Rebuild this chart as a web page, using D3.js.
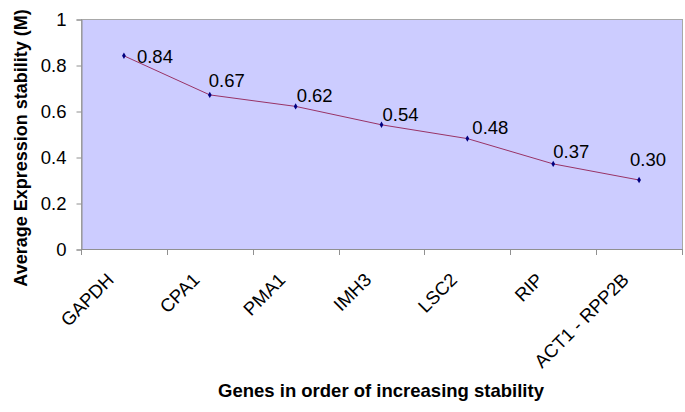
<!DOCTYPE html>
<html>
<head>
<meta charset="utf-8">
<script src="https://cdn.jsdelivr.net/npm/d3@7"></script>
<style>
  body { margin: 0; background: #fff; }
  text { font-family: "Liberation Sans", Arial, sans-serif; fill: #000; }
</style>
</head>
<body>
<svg id="chart" width="685" height="412"></svg>
<script>
const genes = ["GAPDH", "CPA1", "PMA1", "IMH3", "LSC2", "RIP", "ACT1 - RPP2B"];
const stability = [0.84, 0.67, 0.62, 0.54, 0.48, 0.37, 0.30];
const valueLabels = ["0.84", "0.67", "0.62", "0.54", "0.48", "0.37", "0.30"];
const yTicks = [0, 0.2, 0.4, 0.6, 0.8, 1];
const yTickLabels = ["0", "0.2", "0.4", "0.6", "0.8", "1"];

const svg = d3.select("#chart");
const m = { left: 81, top: 19, right: 682, bottom: 249 };
const FS = 18.5;

const x = d3.scaleBand().domain(genes).range([m.left, m.right]).paddingInner(0).paddingOuter(0);
const y = d3.scaleLinear().domain([0, 1]).range([m.bottom, m.top]);

// plot area
svg.append("rect")
  .attr("x", m.left + 0.5).attr("y", m.top + 0.5)
  .attr("width", m.right - m.left).attr("height", m.bottom - m.top)
  .attr("fill", "#ccccff").attr("stroke", "#a8a8a8").attr("stroke-width", 1);

// y axis
const yAxis = svg.append("g").attr("transform", `translate(${m.left + 0.5},0.5)`)
  .call(d3.axisLeft(y).tickValues(yTicks).tickFormat((d, i) => yTickLabels[i]).tickSize(5).tickPadding(10));
yAxis.select(".domain").attr("stroke", "#909090");
yAxis.selectAll(".tick line").attr("stroke", "#909090");
yAxis.selectAll(".tick text").attr("font-size", FS).attr("font-family", "Liberation Sans, Arial, sans-serif").attr("fill", "#000");

// x axis ticks at band boundaries
const xAxis = svg.append("g").attr("transform", `translate(0,${m.bottom})`);
xAxis.append("line").attr("x1", m.left).attr("x2", m.right + 1).attr("y1", 0.5).attr("y2", 0.5).attr("stroke", "#909090");
const bounds = genes.map(g => x(g)).concat([x(genes[genes.length - 1]) + x.bandwidth()]);
xAxis.selectAll("line.tk").data(bounds).enter().append("line")
  .attr("class", "tk")
  .attr("x1", d => Math.round(d) + 0.5).attr("x2", d => Math.round(d) + 0.5)
  .attr("y1", 0).attr("y2", 6).attr("stroke", "#909090");

// x tick labels rotated
xAxis.selectAll("text.lbl").data(genes).enter().append("text")
  .attr("class", "lbl")
  .attr("font-size", FS)
  .attr("text-anchor", "end")
  .attr("transform", d => `translate(${x(d) + x.bandwidth() / 2 - 9},${32}) rotate(-45)`)
  .text(d => d);

// line
const cx = d => x(d) + x.bandwidth() / 2;
const line = d3.line().x((d, i) => cx(genes[i])).y(d => y(d));
svg.append("path").datum(stability)
  .attr("d", line).attr("fill", "none").attr("stroke", "#993366").attr("stroke-width", 1);

// markers (small diamonds)
svg.selectAll("path.mk").data(stability).enter().append("path")
  .attr("class", "mk")
  .attr("d", d3.symbol().type(d3.symbolDiamond).size(12))
  .attr("transform", (d, i) => `translate(${cx(genes[i])},${y(d)})`)
  .attr("fill", "#000080");

// value labels (manual nudges as in the original)
const nudge = [[13, 7], [-1, -8], [1, -4], [1, -4], [5, -5], [0, -6], [-9, -14]];
svg.selectAll("text.val").data(stability).enter().append("text")
  .attr("class", "val")
  .attr("font-size", FS)
  .attr("x", (d, i) => cx(genes[i]) + nudge[i][0])
  .attr("y", (d, i) => y(d) + nudge[i][1])
  .text((d, i) => valueLabels[i]);

// axis titles
svg.append("text")
  .attr("font-size", 18).attr("font-weight", "bold").attr("text-anchor", "middle")
  .attr("transform", "translate(27,148) rotate(-90)")
  .text("Average Expression stability (M)");

svg.append("text")
  .attr("font-size", 18.5).attr("font-weight", "bold").attr("text-anchor", "middle")
  .attr("x", 381).attr("y", 397)
  .text("Genes in order of increasing stability");
</script>
</body>
</html>
